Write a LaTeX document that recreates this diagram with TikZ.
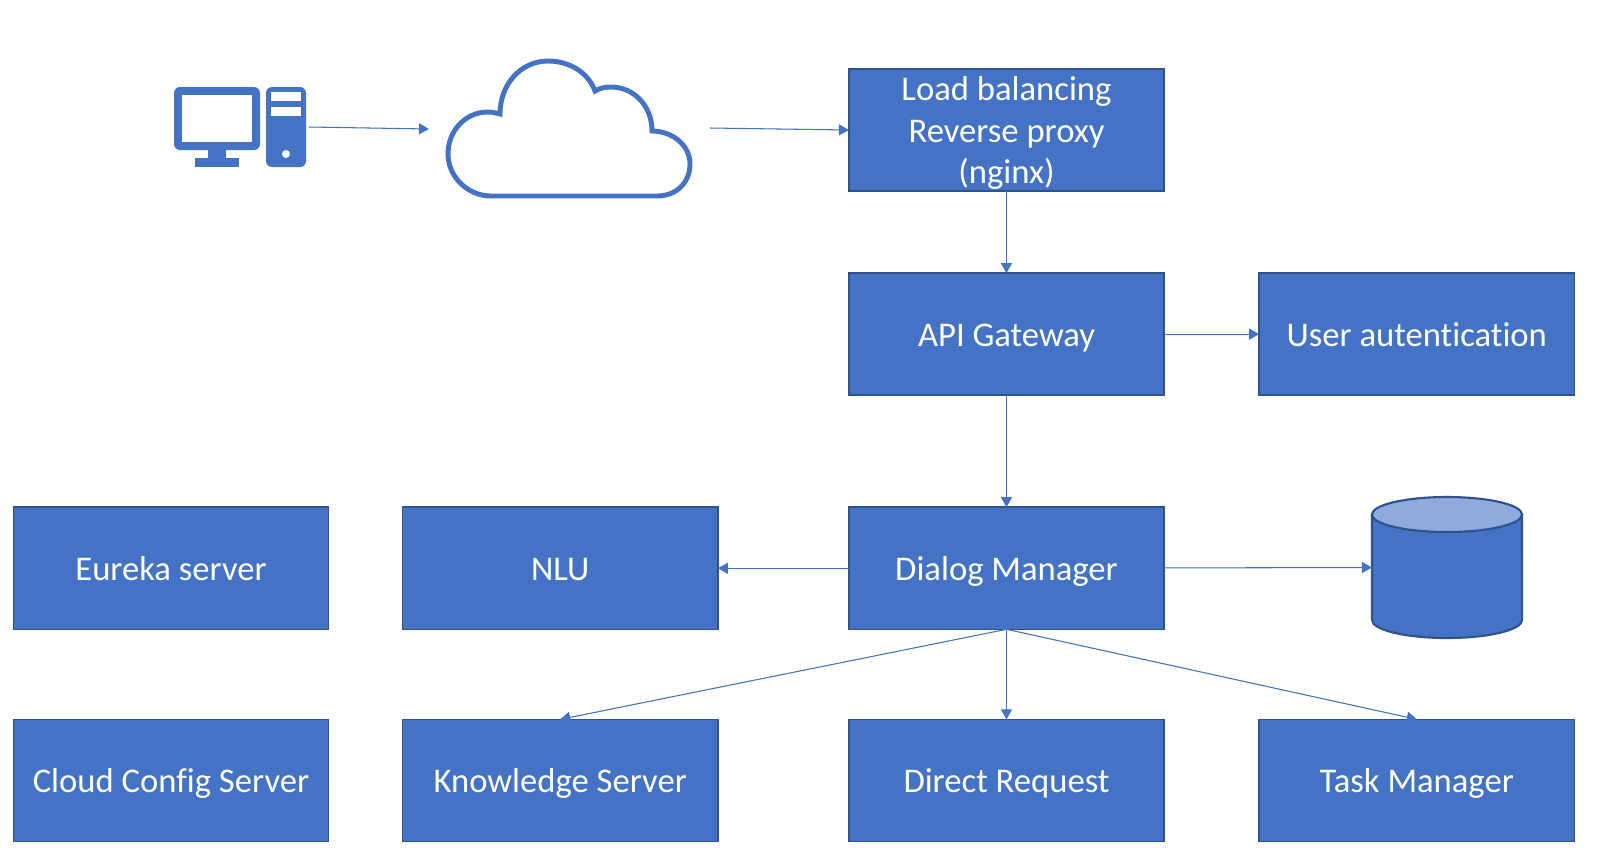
\documentclass[tikz,border=0pt]{standalone}
\usepackage{xcolor}
\usepackage{fontspec}
\setmainfont[Ligatures=NoCommon]{Carlito}
\usetikzlibrary{positioning,arrows.meta}

\definecolor{officeblue}{HTML}{4472C4}
\definecolor{officeedge}{HTML}{2F528F}
\definecolor{officelight}{HTML}{8FAADC}

\begin{document}
\begin{tikzpicture}[
    x=0.01cm, y=-0.01cm,
    box/.style={draw=officeedge, rectangle, line width=0.45pt, fill=officeblue,
                minimum width=31.5mm, minimum height=12.2mm, inner sep=0pt, outer sep=0pt,
                text=white, align=center, font=\fontsize{9.85}{11.8}\selectfont},
    oneline/.style={box, text height=7.6pt, text depth=0.8pt},
    ar/.style={-{Triangle[length=1mm,width=1.1mm]}, line width=0.3pt, draw=officeblue, fill=officeblue},
    icon/.style={fill=officeblue, draw=none},
    store/.style={draw=officeedge, line width=0.6pt},
]
\useasboundingbox (0,0) rectangle (1597,860);

% computer
\fill[icon, rounded corners=0.6mm] (174,87) rectangle (260,150);
\fill[white] (182,95) rectangle (252,142);
\fill[icon] (208,150) rectangle (226,158);
\fill[icon] (195,158) rectangle (239,167);
\fill[icon, rounded corners=0.6mm] (266,87) rectangle (306,167);
\fill[white] (271,92) rectangle (301,101);
\fill[white] (271,107) rectangle (301,116);
\fill[white] (286,154) circle (4);

% cloud
\draw[officeblue, line width=1.4pt, fill=white] (491,196) -- (657,196)
    .. controls (677,196) and (690,182) .. (690,164)
    .. controls (690,145) and (672,131) .. (652,131)
    .. controls (652,105) and (633,87) .. (611,87)
    .. controls (605,87) and (600,88) .. (595,91)
    .. controls (588,72) and (569,61) .. (548,61)
    .. controls (521,61) and (500,84) .. (500,114)
    .. controls (496,113) and (492,112) .. (488,112)
    .. controls (465,112) and (448,131) .. (448,154)
    .. controls (448,177) and (468,196) .. (491,196) -- cycle;

% database
\node[minimum width=15mm, minimum height=14.1mm, inner sep=0pt, outer sep=0pt] (db) at (1447,567.5) {};
\draw[store, fill=officeblue] (1372,514.5) -- (1372,620)
    arc[start angle=180, end angle=360, x radius=7.5mm, y radius=1.8mm]
    -- (1522,514.5) -- cycle;
\draw[store, fill=officelight] (1447,514.5) ellipse [x radius=7.5mm, y radius=1.75mm];

\coordinate (pcout) at (309,127);
\coordinate (cloudin) at (429,129);
\coordinate (cloudout) at (710,128);

\node[box] (lb) at (1006.5,130) {Load balancing\\Reverse proxy\\\smash{(nginx)}};
\node[oneline, below=8.2mm of lb] (api) {API Gateway};
\node[oneline, right=9.5mm of api] (user) {User autentication};
\node[oneline, below=11.2mm of api] (dialog) {Dialog Manager};
\node[oneline, left=13.1mm of dialog] (nlu) {NLU};
\node[oneline, left=7.4mm of nlu] (eureka) {Eureka server};
\node[oneline, below=9mm of dialog] (direct) {Direct Request};
\node[oneline, below=9mm of nlu] (know) {Knowledge Server};
\node[oneline, below=9mm of eureka] (config) {Cloud Config Server};
\node[oneline, below=32.4mm of user] (task) {Task Manager};

\draw[ar] (pcout) -- (cloudin);
\draw[ar] (cloudout) -- (lb.west);
\draw[ar] (lb) -- (api);
\draw[ar] (api) -- (user);
\draw[ar] (api) -- (dialog);
\draw[ar] (dialog) -- (nlu);
\draw[ar] (dialog) -- (db.west);
\draw[ar] (dialog.south) -- (know.north);
\draw[ar] (dialog) -- (direct);
\draw[ar] (dialog.south) -- (task.north);
\end{tikzpicture}
\end{document}
